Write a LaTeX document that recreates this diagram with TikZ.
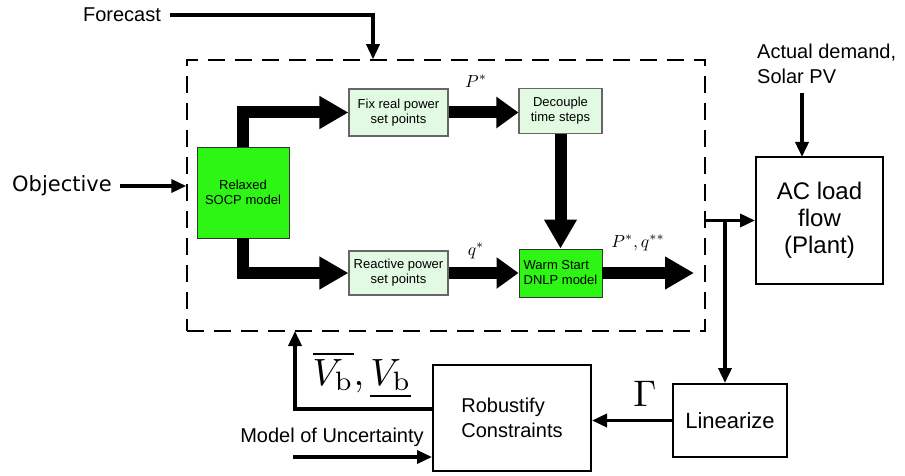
\documentclass[tikz,border=0pt]{standalone}
\usepackage[no-math]{fontspec}
\setmainfont{Liberation Sans}
\newfontfamily\objfont{DejaVu Sans}
\usetikzlibrary{arrows.meta}
\definecolor{brightgreen}{RGB}{45,245,20}
\definecolor{palegreen}{RGB}{226,250,226}
\tikzset{
  greenbox/.style={draw=black!80, line width=0.9pt, fill=brightgreen, inner sep=0pt, align=center, font=\fontsize{13}{15}\selectfont},
  palebox/.style={draw=black!60, line width=1.1pt, fill=palegreen, inner sep=0pt, align=center, font=\fontsize{13}{15}\selectfont},
  plainbox/.style={draw=black, line width=2pt, inner sep=0pt, align=center},
  dashedbox/.style={draw=black, line width=1.5pt, dash pattern=on 17pt off 10pt, inner sep=0pt},
  thickarrow/.style={line width=12pt, line join=miter, -{Triangle[length=29pt,width=31pt]}},
  shortthick/.style={line width=12pt, -{Triangle[length=22pt,width=30pt]}},
  thinarrow/.style={line width=3.5pt, line join=miter, -{Triangle[length=15pt,width=13pt]}},
  mathlabel/.style={scale=1.75, inner sep=0pt},
}
\begin{document}
\begin{tikzpicture}[x=1pt,y=-1pt]
\useasboundingbox (0,0) rectangle (905,476);

% dashed controller box
\node[dashedbox, minimum width=518pt, minimum height=271pt] (ctrl) at (446,195.5) {};

% inner boxes
\node[greenbox, minimum width=92pt, minimum height=91pt] (socp) at (243,192.5) {Relaxed\\SOCP model};
\node[palebox, minimum width=99pt, minimum height=47pt] (fix) at (398.5,112.5) {Fix real power\\set points};
\node[palebox, minimum width=83pt, minimum height=45pt] (dec) at (560.5,111) {Decouple\\time steps};
\node[palebox, minimum width=99pt, minimum height=44pt] (rea) at (398.5,273) {Reactive power\\set points};
\node[greenbox, minimum width=83pt, minimum height=48pt, align=left] (warm) at (560.5,273) {Warm Start\\DNLP model};
\coordinate (out) at (694,273);

% outer boxes
\node[plainbox, minimum width=127pt, minimum height=127pt, font=\fontsize{24}{27}\selectfont] (ac) at (819.5,220.5) {AC load\\flow\\(Plant)};
\node[plainbox, minimum width=114pt, minimum height=73pt, font=\fontsize{22}{26}\selectfont] (lin) at (730,420.5) {Linearize};
\node[plainbox, minimum width=158pt, minimum height=106pt, align=left, font=\fontsize{20}{25}\selectfont] (rob) at (512,418) {Robustify\\Constraints};

% texts
\node[font=\fontsize{20}{24}\selectfont, inner sep=3pt] (fc) at (122,15) {Forecast};
\node[font=\objfont\fontsize{21}{24}\selectfont, inner sep=3pt] (obj) at (62,186) {Objective};
\node[align=left, anchor=north west, inner sep=0pt, font=\fontsize{20}{25}\selectfont] (ad) at (757,44) {Actual demand,\\Solar PV};
\node[font=\fontsize{20}{24}\selectfont, inner sep=0pt] (mu) at (332,437) {Model of Uncertainty};

% thick arrows
\draw[thickarrow] (socp.north) |- (fix.west);
\draw[thickarrow] (socp.south) |- (rea.west);
\draw[shortthick] (fix.east) -- (fix.east -| dec.west);
\draw[thickarrow] (dec.south) -- (warm.north);
\draw[shortthick] (rea.east) -- (warm.west);
\draw[thickarrow] (warm.east) -- (out);

% math labels
\node[mathlabel] (lp) at (476,81) {$P^*$};
\node[mathlabel] (lq) at (476,251) {$q^*$};
\node[mathlabel] (lpq) at (638,243) {$P^*,q^{**}$};

% thin arrows
\coordinate (fcin) at (373,15);
\draw[thinarrow] ([xshift=6pt]fc.east) -- (fcin) -- (fcin |- ctrl.north);
\draw[thinarrow] ([xshift=5pt]obj.east) -- (obj.east -| ctrl.west);
\coordinate (adtop) at (802,93);
\coordinate (acin) at (802,157);
\draw[thinarrow] (adtop) -- (acin);
\draw[thinarrow] (ctrl.east |- ac.west) -- (ac.west);
\coordinate (tj) at (725,220.5);
\draw[thinarrow] (tj) -- (tj |- lin.north);
\draw[thinarrow] (lin.west) -- (lin.west -| rob.east);
\node[scale=3.7, inner sep=0pt] (gam) at (645,394) {$\Gamma$};
\coordinate (vbout) at (433,409);
\coordinate (vbin) at (295,331);
\draw[thinarrow] (vbout) -| (vbin);
\node[scale=3.8, inner sep=0pt] (vb) at (362,375) {$\overline{V_{\mathrm{b}}},\underline{V_{\mathrm{b}}}$};
\coordinate (muin) at (293,457);
\draw[thinarrow] (muin) -- (muin -| rob.west);
\end{tikzpicture}
\end{document}
